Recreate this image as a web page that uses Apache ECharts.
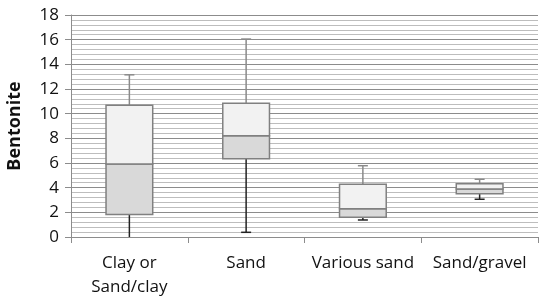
<!DOCTYPE html>
<html>
<head>
<meta charset="utf-8">
<script src="https://cdn.jsdelivr.net/npm/echarts@6/dist/echarts.min.js"></script>
<style>
  html, body { margin: 0; padding: 0; background: #fff; }
  #chart { width: 550px; height: 306px; }
</style>
</head>
<body>
<div id="chart"></div>
<script>
// categories and box statistics
var categories = ['Clay or\nSand/clay', 'Sand', 'Various sand', 'Sand/gravel'];
var lowValues    = [0,    0.38, 1.38, 3.06];
var q1Values     = [1.82, 6.35, 1.6,  3.5];
var medianValues = [5.92, 8.2,  2.3,  3.9];
var q3Values     = [10.68, 10.85, 4.28, 4.32];
var highValues   = [13.15, 16.05, 5.78, 4.68];

var boxData = categories.map(function (c, i) {
  return [i, lowValues[i], q1Values[i], medianValues[i], q3Values[i], highValues[i]];
});

function renderBox(params, api) {
  var x = api.value(0);
  var lo = api.coord([x, api.value(1)]);
  var q1 = api.coord([x, api.value(2)]);
  var md = api.coord([x, api.value(3)]);
  var q3 = api.coord([x, api.value(4)]);
  var hi = api.coord([x, api.value(5)]);
  var bw = api.size([1, 0])[0] * 0.4;
  var cx = lo[0];
  var left = cx - bw / 2;
  var cap = 5;
  var boxLine = '#808080';
  var kids = [
    // upper whisker
    { type: 'line', shape: { x1: cx, y1: q3[1], x2: cx, y2: hi[1] }, style: { stroke: '#8a8a8a', lineWidth: 1.5 } },
    { type: 'line', shape: { x1: cx - cap, y1: hi[1], x2: cx + cap, y2: hi[1] }, style: { stroke: '#8a8a8a', lineWidth: 1.5 } },
    // lower whisker
    { type: 'line', shape: { x1: cx, y1: q1[1], x2: cx, y2: lo[1] }, style: { stroke: '#222', lineWidth: 1.5 } }
  ];
  if (api.value(1) > 0) {
    kids.push({ type: 'line', shape: { x1: cx - cap, y1: lo[1], x2: cx + cap, y2: lo[1] }, style: { stroke: '#222', lineWidth: 1.5 } });
  }
  // lower half of box, then upper half
  kids.push({ type: 'rect', shape: { x: left, y: md[1], width: bw, height: q1[1] - md[1] }, style: { fill: '#d9d9d9', stroke: boxLine, lineWidth: 1.5 } });
  kids.push({ type: 'rect', shape: { x: left, y: q3[1], width: bw, height: md[1] - q3[1] }, style: { fill: '#f2f2f2', stroke: boxLine, lineWidth: 1.5 } });
  return { type: 'group', children: kids };
}

var chart = echarts.init(document.getElementById('chart'));
chart.setOption({
  animation: false,
  textStyle: { fontFamily: '"Open Sans", sans-serif' },
  grid: { left: 71, right: 12, top: 15, bottom: 69, containLabel: false, outerBoundsMode: 'none' },
  xAxis: {
    type: 'category',
    data: categories,
    boundaryGap: true,
    axisLine: { lineStyle: { color: '#8c8c8c', width: 1 } },
    axisTick: { show: true, length: 6, lineStyle: { color: '#8c8c8c' } },
    axisLabel: { color: '#111', fontSize: 17, lineHeight: 24, margin: 14, interval: 0 },
    splitLine: { show: false }
  },
  yAxis: {
    type: 'value',
    min: 0,
    max: 18,
    interval: 2,
    name: 'Bentonite',
    nameLocation: 'middle',
    nameGap: 47,
    nameTextStyle: { color: '#111', fontSize: 18, fontWeight: 'bold' },
    axisLine: { show: true, lineStyle: { color: '#8c8c8c' } },
    axisTick: { show: true, length: 6, lineStyle: { color: '#8c8c8c' } },
    axisLabel: { color: '#111', fontSize: 17, margin: 12 },
    splitLine: { show: true, lineStyle: { color: '#8c8c8c', width: 1 } },
    minorTick: { show: false, splitNumber: 5 },
    minorSplitLine: { show: true, lineStyle: { color: '#bdbdbd', width: 1 } }
  },
  series: [{
    type: 'custom',
    renderItem: renderBox,
    encode: { x: 0, y: [1, 2, 3, 4, 5] },
    data: boxData,
    z: 10
  }]
});
</script>
</body>
</html>
